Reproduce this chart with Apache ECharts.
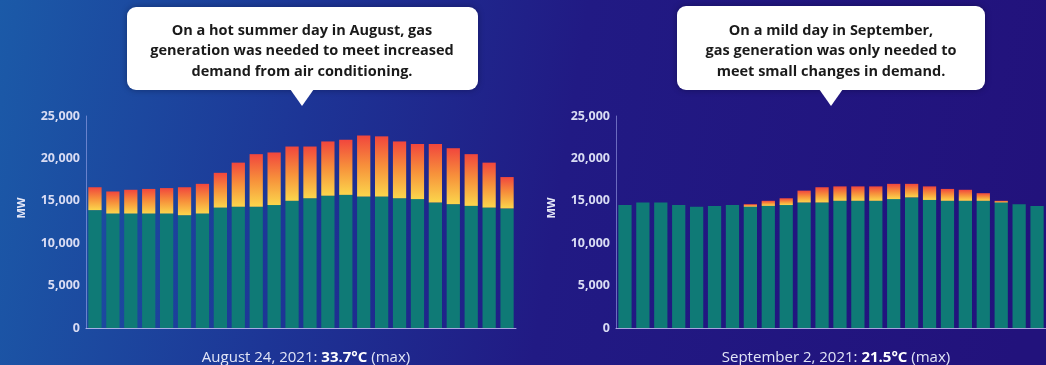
<!DOCTYPE html>
<html>
<head>
<meta charset="utf-8">
<script src="https://cdn.jsdelivr.net/npm/echarts@6/dist/echarts.min.js"></script>
<style>
  html, body { margin: 0; padding: 0; background: #1f2a8c; }
  #chart { width: 1046px; height: 365px; }
</style>
</head>
<body>
<div id="chart"></div>
<script>
// Hour of day (0-23)
const hours = ['0','1','2','3','4','5','6','7','8','9','10','11','12','13','14','15','16','17','18','19','20','21','22','23'];

// August 24, 2021 — MW by hour
const augBase = [13900,13500,13500,13500,13500,13300,13500,14200,14300,14300,14500,15000,15300,15600,15700,15500,15500,15300,15200,14800,14600,14400,14200,14100];
const augGas  = [2700,2600,2800,2900,3000,3300,3500,4100,5200,6200,6200,6400,6100,6400,6500,7200,7100,6700,6500,6900,6600,6100,5300,3700];

// September 2, 2021 — MW by hour
const sepBase = [14500,14800,14800,14500,14300,14400,14500,14300,14400,14500,14800,14800,15000,15000,15000,15200,15400,15100,15000,15000,15000,14800,14600,14400];
const sepGas  = [0,0,0,0,0,0,0,300,600,800,1400,1800,1700,1700,1700,1800,1600,1600,1400,1300,900,200,0,0];

// Axis ticks and labels
const yMin = 0, yMax = 25000, yStep = 5000;
const unitLabel = 'MW';
const augTitle = ['August 24, 2021: ', '33.7°C', ' (max)'];
const sepTitle = ['September 2, 2021: ', '21.5°C', ' (max)'];
const augNote = 'On a hot summer day in August, gas\ngeneration was needed to meet increased\ndemand from air conditioning.';
const sepNote = 'On a mild day in September,\ngas generation was only needed to\nmeet small changes in demand.';

const FONT = '"Open Sans", "Liberation Sans", sans-serif';
const TEAL = '#0f7a76';
const gasFill = new echarts.graphic.LinearGradient(0, 0, 0, 1, [
  { offset: 0, color: '#f1463d' },
  { offset: 0.5, color: '#f7913b' },
  { offset: 1, color: '#fbd64c' }
]);

const panels = [
  { left: 86, base: augBase, gas: augGas, title: augTitle, note: augNote, box: [127, 7, 351, 83], tip: 302 },
  { left: 616, base: sepBase, gas: sepGas, title: sepTitle, note: sepNote, box: [677, 6, 308, 84], tip: 831 }
];
const gridW = 430, gridTop = 116, gridH = 212;

const chart = echarts.init(document.getElementById('chart'), null, { renderer: 'canvas' });

const option = {
  animation: false,
  backgroundColor: {
    type: 'linear', x: 0, y: 0, x2: 1, y2: 0.45,
    colorStops: [
      { offset: 0, color: '#1b5aa8' },
      { offset: 0.3, color: '#1d3596' },
      { offset: 0.55, color: '#211a84' },
      { offset: 1, color: '#22127c' }
    ]
  },
  title: panels.map(p => ({
    text: '{a|' + p.title[0] + '}{b|' + p.title[1] + '}{a|' + p.title[2] + '}',
    left: p.left + gridW / 2,
    textAlign: 'center',
    top: 345,
    textStyle: {
      fontWeight: 'normal',
      rich: {
        a: { color: '#e2e5f6', fontSize: 15, fontWeight: 'normal', fontFamily: FONT },
        b: { color: '#ffffff', fontSize: 15, fontWeight: 'bold', fontFamily: FONT }
      }
    }
  })),
  grid: panels.map(p => ({ left: p.left, top: gridTop, width: gridW, height: gridH })),
  xAxis: panels.map((p, i) => ({
    type: 'category',
    gridIndex: i,
    data: hours,
    axisLine: { show: true, lineStyle: { color: 'rgba(215,210,255,0.75)', width: 1 } },
    axisTick: { show: false },
    axisLabel: { show: false }
  })),
  yAxis: panels.map((p, i) => ({
    type: 'value',
    gridIndex: i,
    min: yMin, max: yMax, interval: yStep,
    axisLine: { show: true, lineStyle: { color: 'rgba(170,175,240,0.55)', width: 1 } },
    axisTick: { show: false },
    splitLine: { show: false },
    axisLabel: {
      color: '#d9dcf3', fontSize: 12.5, fontWeight: 'bold', fontFamily: FONT, margin: 6,
      formatter: v => v.toLocaleString('en-US')
    }
  })),
  series: panels.flatMap((p, i) => [
    {
      type: 'bar', xAxisIndex: i, yAxisIndex: i, stack: 'gen' + i,
      data: p.base, barCategoryGap: '26%',
      itemStyle: { color: TEAL }
    },
    {
      type: 'bar', xAxisIndex: i, yAxisIndex: i, stack: 'gen' + i,
      data: p.gas, barCategoryGap: '26%',
      itemStyle: { color: gasFill }
    }
  ]),
  graphic: [
    // rotated unit labels beside each value axis
    ...panels.map(p => ({
      type: 'text', x: p.left - 64, y: 208, rotation: Math.PI / 2,
      style: { text: unitLabel, fill: '#e6e8f7', font: 'bold 11px ' + FONT, align: 'center', verticalAlign: 'middle' }
    })),
    // speech-bubble notes above each panel
    ...panels.flatMap(p => [
      {
        type: 'rect',
        shape: { x: p.box[0], y: p.box[1], width: p.box[2], height: p.box[3], r: 9 },
        style: { fill: '#ffffff', shadowBlur: 6, shadowColor: 'rgba(0,0,20,0.35)' }
      },
      {
        type: 'polygon',
        shape: { points: [[p.tip - 12, p.box[1] + p.box[3] - 1], [p.tip + 12, p.box[1] + p.box[3] - 1], [p.tip, 106]] },
        style: { fill: '#ffffff' }
      },
      {
        type: 'text', x: p.tip, y: 51,
        style: {
          text: p.note, fill: '#1a1a1a', font: 'bold 14.5px ' + FONT,
          align: 'center', verticalAlign: 'middle', lineHeight: 20.5
        }
      }
    ])
  ]
};

chart.setOption(option);
</script>
</body>
</html>
